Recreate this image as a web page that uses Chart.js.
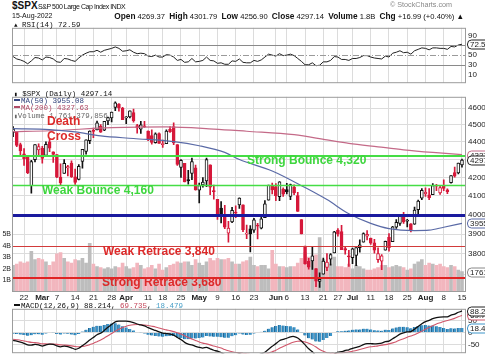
<!DOCTYPE html>
<html>
<head>
<meta charset="utf-8">
<title>$SPX</title>
<script src="https://cdn.jsdelivr.net/npm/chart.js@4.4.1/dist/chart.umd.min.js"></script>
<style>
html, body { margin: 0; padding: 0; background: #fff; }
body { position: relative; width: 485px; height: 360px; overflow: hidden; font-family: "Liberation Sans", Arial, sans-serif; color: #111; }
canvas { position: absolute; left: 0; }
.t { position: absolute; white-space: nowrap; line-height: 1; }
.m { font-family: "Liberation Mono", "DejaVu Sans Mono", monospace; font-size: 7.5px; }
.big { font-weight: bold; font-size: 12px; color: #dd2a2a; }
.dash { display: inline-block; width: 6px; height: 2px; vertical-align: 2px; margin-right: 1px; }
.hd b { font-size: 8.3px; }
</style>
</head>
<body>
<canvas id="rsiChart" width="485" height="69" style="top:21px"></canvas>
<canvas id="priceChart" width="485" height="212" style="top:90px"></canvas>
<canvas id="macdChart" width="485" height="58" style="top:302px"></canvas>

<div class="t" style="left:12px;top:1px;font-size:10px;font-weight:bold">$SPX</div>
<div class="t" style="left:38px;top:3px;font-size:7px;letter-spacing:-0.45px">S&amp;P 500 Large Cap Index INDX</div>
<div class="t" style="left:390px;top:1px;font-size:7.2px;color:#888">&copy; StockCharts.com</div>
<div class="t" style="left:12px;top:12px;font-size:7px">15-Aug-2022</div>
<div class="t hd" style="right:21px;top:11.5px;font-size:7.6px"><b>Open</b> 4269.37 &nbsp;<b>High</b> 4301.79 &nbsp;<b>Low</b> 4256.90 &nbsp;<b>Close</b> 4297.14 &nbsp;<b>Volume</b> 1.8B &nbsp;<b>Chg</b> +16.99 (+0.40%) &#9650;</div>

<div class="t m" style="left:14px;top:22px"><span style="font-size:6px">&#9650;</span> RSI(14) 72.59</div>

<div class="t m" style="left:14px;top:91px"><span style="font-size:6px">&#9646;</span> $SPX (Daily) 4297.14</div>
<div class="t m" style="left:14px;top:98px;color:#34457e"><span class="dash" style="background:#34457e"></span>MA(50) 3955.08</div>
<div class="t m" style="left:14px;top:105px;color:#b04a66"><span class="dash" style="background:#b04a66"></span>MA(200) 4327.63</div>
<div class="t m" style="left:14px;top:113px;color:#666"><span style="font-size:6px">&#9646;</span>Volume 1,761,379,856</div>
<div class="t big" style="left:47px;top:115px">Death</div>
<div class="t big" style="left:47px;top:130px">Cross</div>

<div class="t m" style="left:14px;top:303px"><span class="dash" style="background:#111"></span>MACD(12,26,9) 88.214, <span style="color:#c4485c">69.735</span>, <span style="color:#4aa0c8">18.479</span></div>

<script>
// trading days shown on the chart
const days = ['2/16','2/17','2/18','2/22','2/23','2/24','2/25','2/28',
  '3/1','3/2','3/3','3/4','3/7','3/8','3/9','3/10','3/11','3/14','3/15','3/16','3/17','3/18','3/21','3/22','3/23','3/24','3/25','3/28','3/29','3/30','3/31',
  '4/1','4/4','4/5','4/6','4/7','4/8','4/11','4/12','4/13','4/14','4/18','4/19','4/20','4/21','4/22','4/25','4/26','4/27','4/28','4/29',
  '5/2','5/3','5/4','5/5','5/6','5/9','5/10','5/11','5/12','5/13','5/16','5/17','5/18','5/19','5/20','5/23','5/24','5/25','5/26','5/27','5/31',
  '6/1','6/2','6/3','6/6','6/7','6/8','6/9','6/10','6/13','6/14','6/15','6/16','6/17','6/21','6/22','6/23','6/24','6/27','6/28','6/29','6/30',
  '7/1','7/5','7/6','7/7','7/8','7/11','7/12','7/13','7/14','7/15','7/18','7/19','7/20','7/21','7/22','7/25','7/26','7/27','7/28','7/29',
  '8/1','8/2','8/3','8/4','8/5','8/8','8/9','8/10','8/11','8/12','8/15'];

const open = [4455,4456,4385,4332,4324,4155,4299,4354,
  4363,4323,4401,4343,4328,4202,4223,4253,4280,4203,4189,4289,4346,4407,4462,4470,4493,4469,4523,4541,4603,4624,4599,
  4541,4547,4573,4495,4474,4494,4463,4437,4396,4449,4385,4390,4473,4489,4385,4255,4279,4186,4222,4253,
  4131,4159,4181,4270,4128,4081,4035,3991,3904,3963,4013,4052,4052,3900,3927,3920,3943,3930,3985,4077,4151,
  4150,4096,4137,4134,4097,4148,4101,3974,3839,3763,3765,3728,3665,3701,3733,3774,3805,3920,3913,3826,3786,
  3781,3793,3831,3859,3889,3880,3855,3771,3764,3819,3883,3861,3935,3955,3999,3966,3953,3951,4026,4087,
  4112,4105,4107,4154,4116,4156,4133,4171,4227,4225,4269.37];
const high = [4490,4456,4394,4362,4324,4295,4385,4389,
  4375,4401,4417,4343,4328,4276,4299,4268,4292,4247,4272,4358,4412,4465,4481,4522,4501,4520,4546,4575,4637,4627,4604,
  4548,4583,4594,4503,4521,4521,4464,4471,4453,4453,4411,4471,4489,4512,4385,4300,4279,4240,4308,4269,
  4169,4200,4308,4270,4158,4082,4069,4050,3965,4039,4047,4090,4052,3946,3943,3981,3955,3999,4075,4158,4169,
  4166,4177,4143,4168,4164,4160,4119,3974,3839,3778,3838,3728,3707,3779,3801,3802,3914,3928,3945,3836,3818,
  3829,3832,3871,3906,3918,3880,3873,3830,3796,3864,3903,3940,3975,4001,4013,3976,3954,4040,4078,4140,
  4144,4140,4167,4162,4151,4187,4138,4211,4258,4280,4301.79];
const low = [4430,4373,4327,4267,4221,4114,4287,4318,
  4279,4322,4345,4284,4199,4157,4223,4209,4200,4162,4187,4251,4330,4390,4425,4470,4455,4465,4501,4517,4584,4581,4531,
  4507,4540,4515,4451,4450,4484,4408,4387,4393,4392,4368,4390,4455,4384,4267,4200,4175,4163,4188,4131,
  4062,4147,4150,4107,4082,3975,3957,3928,3859,3959,3984,4033,3912,3876,3810,3909,3875,3926,3985,4077,4110,
  4074,4074,4097,4110,4080,4107,4017,3901,3749,3725,3723,3640,3637,3701,3717,3744,3805,3889,3821,3799,3738,
  3752,3742,3809,3859,3870,3847,3803,3758,3722,3818,3814,3861,3929,3944,3955,3936,3911,3950,3992,4080,
  4097,4079,4107,4128,4108,4128,4112,4169,4201,4220,4256.90];
const close = [4475,4380,4349,4304,4226,4288,4385,4374,
  4306,4387,4364,4329,4201,4171,4278,4260,4204,4173,4262,4358,4412,4463,4461,4512,4457,4520,4543,4575,4632,4602,4530,
  4546,4583,4525,4481,4500,4488,4413,4397,4447,4392,4391,4463,4459,4394,4272,4296,4175,4183,4288,4132,
  4155,4175,4300,4147,4123,3991,4001,3935,3930,4023,4008,4088,3923,3901,3901,3973,3941,3979,4058,4158,4132,
  4101,4176,4109,4121,4161,4116,4018,3901,3750,3735,3790,3667,3675,3765,3760,3796,3912,3901,3821,3819,3785,
  3825,3831,3845,3903,3899,3854,3819,3802,3790,3863,3831,3937,3960,3999,3962,3967,3921,4024,4072,4130,
  4119,4091,4155,4152,4145,4140,4122,4210,4207,4280,4297.14];
// volume, billions
const volume = [2.3,2.4,2.6,2.5,2.6,3.5,2.8,2.9,
  2.8,2.6,2.3,2.6,3.3,3.4,2.9,2.6,2.5,2.8,2.7,2.9,2.5,4.2,2.4,2.2,2.1,2.0,2.1,2.0,2.2,2.1,2.5,
  2.2,2.0,2.1,2.5,2.3,2.0,2.1,2.3,2.0,2.4,1.9,2.1,2.3,2.4,2.6,2.5,2.6,2.6,2.3,2.8,
  2.5,2.3,2.6,2.9,2.7,2.9,2.8,2.8,2.9,2.6,2.4,2.4,2.6,2.7,3.0,2.3,2.2,2.3,2.3,2.0,3.6,
  2.4,2.2,2.2,2.1,2.2,2.2,2.5,2.9,3.4,3.0,3.0,3.2,4.7,2.8,2.5,2.4,3.0,2.2,2.2,2.1,2.4,
  2.0,2.3,2.2,2.0,1.9,1.9,2.0,2.1,2.3,2.3,2.1,2.2,2.3,2.2,2.1,1.9,2.0,2.4,2.6,2.8,
  2.3,2.5,2.4,2.3,2.4,2.2,2.1,2.3,2.2,1.9,1.761];

// moving averages read at a few days along the lines
const ma50Days = ['2/16','3/3','3/14','3/23','4/5','4/21','5/2','5/11','5/17','5/31','6/13','6/22','6/30','7/11','7/18','7/27','8/2','8/8','8/15'];
const ma50 = [4477,4472,4458,4435,4420,4402,4378,4340,4300,4236,4145,4080,4005,3955,3928,3918,3920,3935,3955.08];
const ma200Days = ['2/16','3/3','3/28','4/19','5/6','5/19','6/8','6/22','6/30','7/13','7/22','8/3','8/15'];
const ma200 = [4460,4465,4483,4488,4475,4462,4442,4412,4392,4372,4355,4340,4327.63];

const rsi = [47,42,40,37,32,38,45,44,40,46,45,42,36,35,43,42,39,37,44,50,
  54,57,57,60,56,60,62,64,67,64,58,59,61,56,53,54,53,48,47,50,
  46,46,51,50,46,39,41,35,36,43,36,37,39,46,39,38,33,34,31,31,
  38,37,42,35,34,34,39,37,40,46,52,50,48,53,49,50,52,49,43,37,
  30,30,34,28,29,36,36,39,47,46,41,41,39,43,43,45,49,49,46,44,
  43,42,48,46,54,56,59,55,56,52,59,62,65,64,61,65,65,64,64,62,
  68,67,71,72.59];

const macd = [-32,-35,-39,-44,-50,-51,-48,-50,-55,-50,-47,-48,-54,-58,-55,-57,-62,-68,-64,-53,
  -42,-30,-20,-9,-2,9,22,33,44,47,47,47,45,41,35,31,27,20,14,9,
  3,-2,-4,-6,-10,-20,-28,-40,-47,-50,-56,-60,-63,-60,-66,-72,-76,-82,-90,-95,
  -93,-92,-86,-92,-96,-98,-94,-92,-87,-80,-68,-56,-45,-33,-28,-23,-17,-16,-22,-34,
  -50,-66,-78,-95,-106,-106,-104,-99,-88,-80,-78,-73,-70,-64,-60,-56,-49,-45,-45,-46,
  -45,-43,-37,-35,-25,-16,-6,-1,3,4,14,25,36,45,50,57,61,63,64,64,
  71,75,83,88.214];
const signal = [-27,-29,-31,-34,-37,-40,-41,-43,-46,-46,-47,-47,-48,-50,-51,-52,-54,-57,-58,-57,
  -54,-49,-44,-37,-30,-22,-13,-4,6,14,21,26,30,32,33,32,31,29,26,23,
  19,15,11,8,4,-1,-6,-13,-20,-26,-32,-38,-43,-46,-50,-55,-59,-63,-69,-74,
  -78,-81,-82,-84,-86,-89,-90,-90,-90,-88,-84,-78,-72,-64,-57,-50,-43,-38,-35,-35,
  -38,-43,-50,-59,-69,-76,-82,-85,-86,-85,-83,-81,-79,-76,-73,-69,-65,-61,-58,-56,
  -54,-51,-49,-46,-42,-37,-30,-25,-19,-14,-9,-2,6,14,21,28,35,40,45,49,
  53,58,64.5,69.735];
const hist = [-5,-6,-8,-10,-13,-11,-7,-7,-9,-4,0,-1,-6,-8,-4,-5,-8,-11,-6,4,
  12,19,24,28,28,31,35,37,38,33,26,21,15,9,2,-1,-4,-9,-12,-14,
  -16,-17,-15,-14,-14,-19,-22,-27,-27,-24,-24,-22,-20,-14,-16,-17,-17,-19,-21,-21,
  -15,-11,-4,-8,-10,-9,-4,-2,3,8,16,22,27,31,29,27,26,22,13,1,
  -12,-23,-28,-36,-37,-30,-22,-14,-2,5,5,8,9,12,13,13,16,16,13,10,
  9,8,12,11,17,21,24,24,22,18,23,27,30,31,29,29,26,23,19,15,
  18,17,18.5,18.479];

const tickDays = ['2/22','3/1','3/7','3/14','3/21','3/28','4/1','4/11','4/18','4/25','5/2','5/9','5/16','5/23','6/1','6/6','6/13','6/21','6/27','7/1','7/11','7/18','7/25','8/1','8/8','8/15'];
const tickLabels = ['22','Mar','7','14','21','28','Apr','11','18','25','May','9','16','23','Jun','6','13','21','27','Jul','11','18','25','Aug','8','15'];
const monthLabels = ['Mar','Apr','May','Jun','Jul','Aug'];
const priceTicks = [3700,3800,3900,4000,4100,4200,4300,4400,4500,4600];
const volumeTicks = [1,2,3,4,5];
const rsiTicks = [90,70,50,30,10];
const macdTicks = [50,0,-50];

const levels = [4320,4160,4000,3840,3680];
const levelNames = ['Strong Bounce 4,320','Weak Bounce 4,160','','Weak Retrace 3,840','Strong Retrace 3,680'];

// ---------- look ----------
const RED = '#d6183a';
const BLACK = '#111';
const GRID = '#dcdcdc';
const FONT = '"Liberation Sans", Arial, sans-serif';
Chart.defaults.font.family = FONT;
Chart.defaults.color = '#222';

const tickIdx = tickDays.map(d => days.indexOf(d));
const idx = d => days.indexOf(d);
const last = a => a[a.length - 1];

const candleColor = close.map((c, i) => (i > 0 && c < close[i - 1]) ? RED : BLACK);
const bodyFill = close.map((c, i) => c < open[i] ? candleColor[i] : '#fff');
const volColor = candleColor.map(c => c === RED ? '#f2b6be' : '#bdbdbd');

function xAxis(labels) {
  return {
    type: 'linear', min: -0.3, max: 124.1, offset: false,
    afterBuildTicks: s => { s.ticks = tickIdx.map(v => ({ value: v })); },
    afterFit: s => { s.height = labels ? 10 : 0; },
    grid: { color: GRID, drawTicks: false, offset: false },
    border: { display: false },
    ticks: {
      display: labels, autoSkip: false, maxRotation: 0, minRotation: 0, padding: 1,
      callback: (v, i) => tickLabels[i],
      font: c => ({ size: 8, family: FONT, weight: monthLabels.includes(tickLabels[c.index]) ? 'bold' : 'normal' }),
      color: '#222'
    }
  };
}

function rightAxis(min, max, ticks, showGrid, type) {
  return {
    type: type || 'linear', position: 'right', min, max,
    afterBuildTicks: s => { s.ticks = ticks.map(v => ({ value: v })); },
    afterFit: s => { s.width = 19; },
    grid: { display: showGrid, color: GRID, drawTicks: false },
    border: { display: false },
    ticks: { autoSkip: false, padding: 2, font: { size: 8 }, color: '#222', callback: v => String(v) }
  };
}

const framePlugin = {
  id: 'frame',
  afterDatasetsDraw(chart) {
    const a = chart.chartArea, ctx = chart.ctx;
    ctx.save();
    ctx.strokeStyle = '#9c9c9c';
    ctx.lineWidth = 1;
    ctx.strokeRect(a.left + 0.5, a.top + 0.5, a.right - a.left - 1, a.bottom - a.top - 1);
    ctx.restore();
  }
};

// value tags on the right edge
const tagPlugin = {
  id: 'tags',
  afterDraw(chart, args, opts) {
    const ctx = chart.ctx;
    (opts.items || []).forEach(t => {
      const y = Math.round(chart.scales[t.axis].getPixelForValue(t.value)) + 0.5;
      const x = chart.chartArea.right + 1.5;
      ctx.save();
      ctx.beginPath();
      ctx.roundRect(x, y - 4.5, 26, 9, 4);
      ctx.fillStyle = '#fff';
      ctx.fill();
      ctx.strokeStyle = t.color;
      ctx.lineWidth = 1;
      ctx.stroke();
      ctx.fillStyle = '#222';
      ctx.font = '8px ' + FONT;
      ctx.textBaseline = 'middle';
      ctx.fillText(t.text, x + 2.5, y + 0.5);
      ctx.restore();
    });
  }
};

// horizontal reference lines drawn on top of the data
const refPlugin = {
  id: 'refs',
  afterDatasetsDraw(chart, args, opts) {
    const ctx = chart.ctx, a = chart.chartArea;
    (opts.lines || []).forEach(l => {
      const y = Math.round(chart.scales[l.axis].getPixelForValue(l.value)) + (l.width % 2 ? 0.5 : 0);
      ctx.save();
      ctx.strokeStyle = l.color;
      ctx.lineWidth = l.width;
      ctx.setLineDash(l.dash || []);
      ctx.beginPath();
      ctx.moveTo(a.left, y);
      ctx.lineTo(a.right, y);
      ctx.stroke();
      if (l.text) {
        ctx.fillStyle = l.textColor;
        ctx.font = 'bold 12px ' + FONT;
        ctx.textBaseline = 'top';
        ctx.fillText(l.text, l.textX, y - 1);
      }
      ctx.restore();
    });
  }
};

// ---------- RSI panel ----------
new Chart(document.getElementById('rsiChart'), {
  type: 'line',
  data: {
    datasets: [{
      data: rsi.map((v, i) => ({ x: i, y: v })),
      borderColor: '#222', borderWidth: 1, pointRadius: 0, tension: 0
    }]
  },
  options: {
    responsive: false, animation: false, devicePixelRatio: 1,
    layout: { padding: { left: 12, right: 0, top: 0, bottom: 0 } },
    plugins: {
      legend: { display: false }, tooltip: { enabled: false },
      refs: { lines: [
        { axis: 'y', value: 70, color: '#8a8a8a', width: 1 },
        { axis: 'y', value: 50, color: '#9a9a9a', width: 1, dash: [6, 2, 1, 2] },
        { axis: 'y', value: 30, color: '#8a8a8a', width: 1 }
      ] },
      tags: { items: [{ axis: 'y', value: last(rsi), text: last(rsi).toFixed(2), color: '#222' }] }
    },
    scales: { x: xAxis(false), y: rightAxis(-8.3, 106.7, rsiTicks, false) }
  },
  plugins: [refPlugin, framePlugin, tagPlugin]
});

// ---------- price panel ----------
const ptsOf = (dayList, vals) => dayList.map((d, k) => ({ x: idx(d), y: vals[k] }));

new Chart(document.getElementById('priceChart'), {
  type: 'bar',
  data: {
    datasets: [
      { type: 'line', data: ptsOf(ma50Days, ma50), borderColor: '#5a6aa6', borderWidth: 1.2,
        pointRadius: 0, cubicInterpolationMode: 'monotone', yAxisID: 'y', order: 0 },
      { type: 'line', data: ptsOf(ma200Days, ma200), borderColor: '#c46a88', borderWidth: 1.2,
        pointRadius: 0, cubicInterpolationMode: 'monotone', yAxisID: 'y', order: 0 },
      { data: open.map((o, i) => ({ x: i, y: [o, close[i]] })), backgroundColor: bodyFill,
        borderColor: candleColor, borderWidth: 1, borderSkipped: false, barThickness: 3,
        minBarLength: 1, grouped: false, yAxisID: 'y', order: 1 },
      { data: low.map((l, i) => ({ x: i, y: [l, high[i]] })), backgroundColor: candleColor,
        barThickness: 1, grouped: false, yAxisID: 'y', order: 2 },
      { data: volume.map((v, i) => ({ x: i, y: v })), backgroundColor: volColor,
        barThickness: 3, grouped: false, yAxisID: 'yv', order: 3 }
    ]
  },
  options: {
    responsive: false, animation: false, devicePixelRatio: 1,
    layout: { padding: 0 },
    plugins: {
      legend: { display: false }, tooltip: { enabled: false },
      refs: { lines: [
        { axis: 'y', value: levels[0], color: '#45dd45', width: 2, text: levelNames[0], textColor: '#3ed63e', textX: 247 },
        { axis: 'y', value: levels[1], color: '#45dd45', width: 1.5, text: levelNames[1], textColor: '#3ed63e', textX: 42 },
        { axis: 'y', value: levels[2], color: '#1a1a9e', width: 3 },
        { axis: 'y', value: levels[3], color: '#d23a3a', width: 1.2, text: levelNames[3], textColor: '#dd2a2a', textX: 103 },
        { axis: 'y', value: levels[4], color: '#e02424', width: 2, text: levelNames[4], textColor: '#dd2a2a', textX: 102 }
      ] },
      tags: { items: [
        { axis: 'yv', value: last(volume), text: String(Math.round(last(volume) * 1000)), color: '#888' },
        { axis: 'y', value: last(ma50), text: String(Math.floor(last(ma50))), color: '#5a6aa6' },
        { axis: 'y', value: last(ma200), text: String(Math.floor(last(ma200))), color: '#c46a88' },
        { axis: 'y', value: last(close), text: String(Math.floor(last(close))), color: '#222' }
      ] }
    },
    scales: {
      x: xAxis(true),
      y: rightAxis(3615, 4668, priceTicks, true, 'logarithmic'),
      yv: {
        type: 'linear', position: 'left', min: 0, max: 16.83,
        afterBuildTicks: s => { s.ticks = volumeTicks.map(v => ({ value: v })); },
        afterFit: s => { s.width = 12; },
        grid: { display: false, drawTicks: false }, border: { display: false },
        ticks: { padding: 1, font: { size: 7 }, color: '#222', callback: v => v + 'B' }
      }
    }
  },
  plugins: [refPlugin, framePlugin, tagPlugin]
});

// ---------- MACD panel ----------
new Chart(document.getElementById('macdChart'), {
  type: 'bar',
  data: {
    datasets: [
      { type: 'line', data: macd.map((v, i) => ({ x: i, y: v })), borderColor: '#111', borderWidth: 1.3,
        pointRadius: 0, tension: 0.2, order: 0 },
      { type: 'line', data: signal.map((v, i) => ({ x: i, y: v })), borderColor: '#d0566a', borderWidth: 1.1,
        pointRadius: 0, tension: 0.2, order: 1 },
      { data: hist.map((v, i) => ({ x: i, y: v })), backgroundColor: '#3d95c9', borderColor: '#22628e',
        borderWidth: { left: 1 }, borderSkipped: false, barThickness: 3, grouped: false, order: 2 }
    ]
  },
  options: {
    responsive: false, animation: false, devicePixelRatio: 1,
    layout: { padding: { left: 12, right: 0, top: 0, bottom: 0 } },
    plugins: {
      legend: { display: false }, tooltip: { enabled: false },
      tags: { items: [
        { axis: 'y', value: last(hist), text: last(hist).toFixed(2), color: '#3d95c9' },
        { axis: 'y', value: last(signal), text: last(signal).toFixed(2), color: '#d0566a' },
        { axis: 'y', value: last(macd), text: last(macd).toFixed(2), color: '#222' }
      ] }
    },
    scales: { x: xAxis(false), y: rightAxis(-84, 97, macdTicks, true) }
  },
  plugins: [framePlugin, tagPlugin]
});
</script>
</body>
</html>
